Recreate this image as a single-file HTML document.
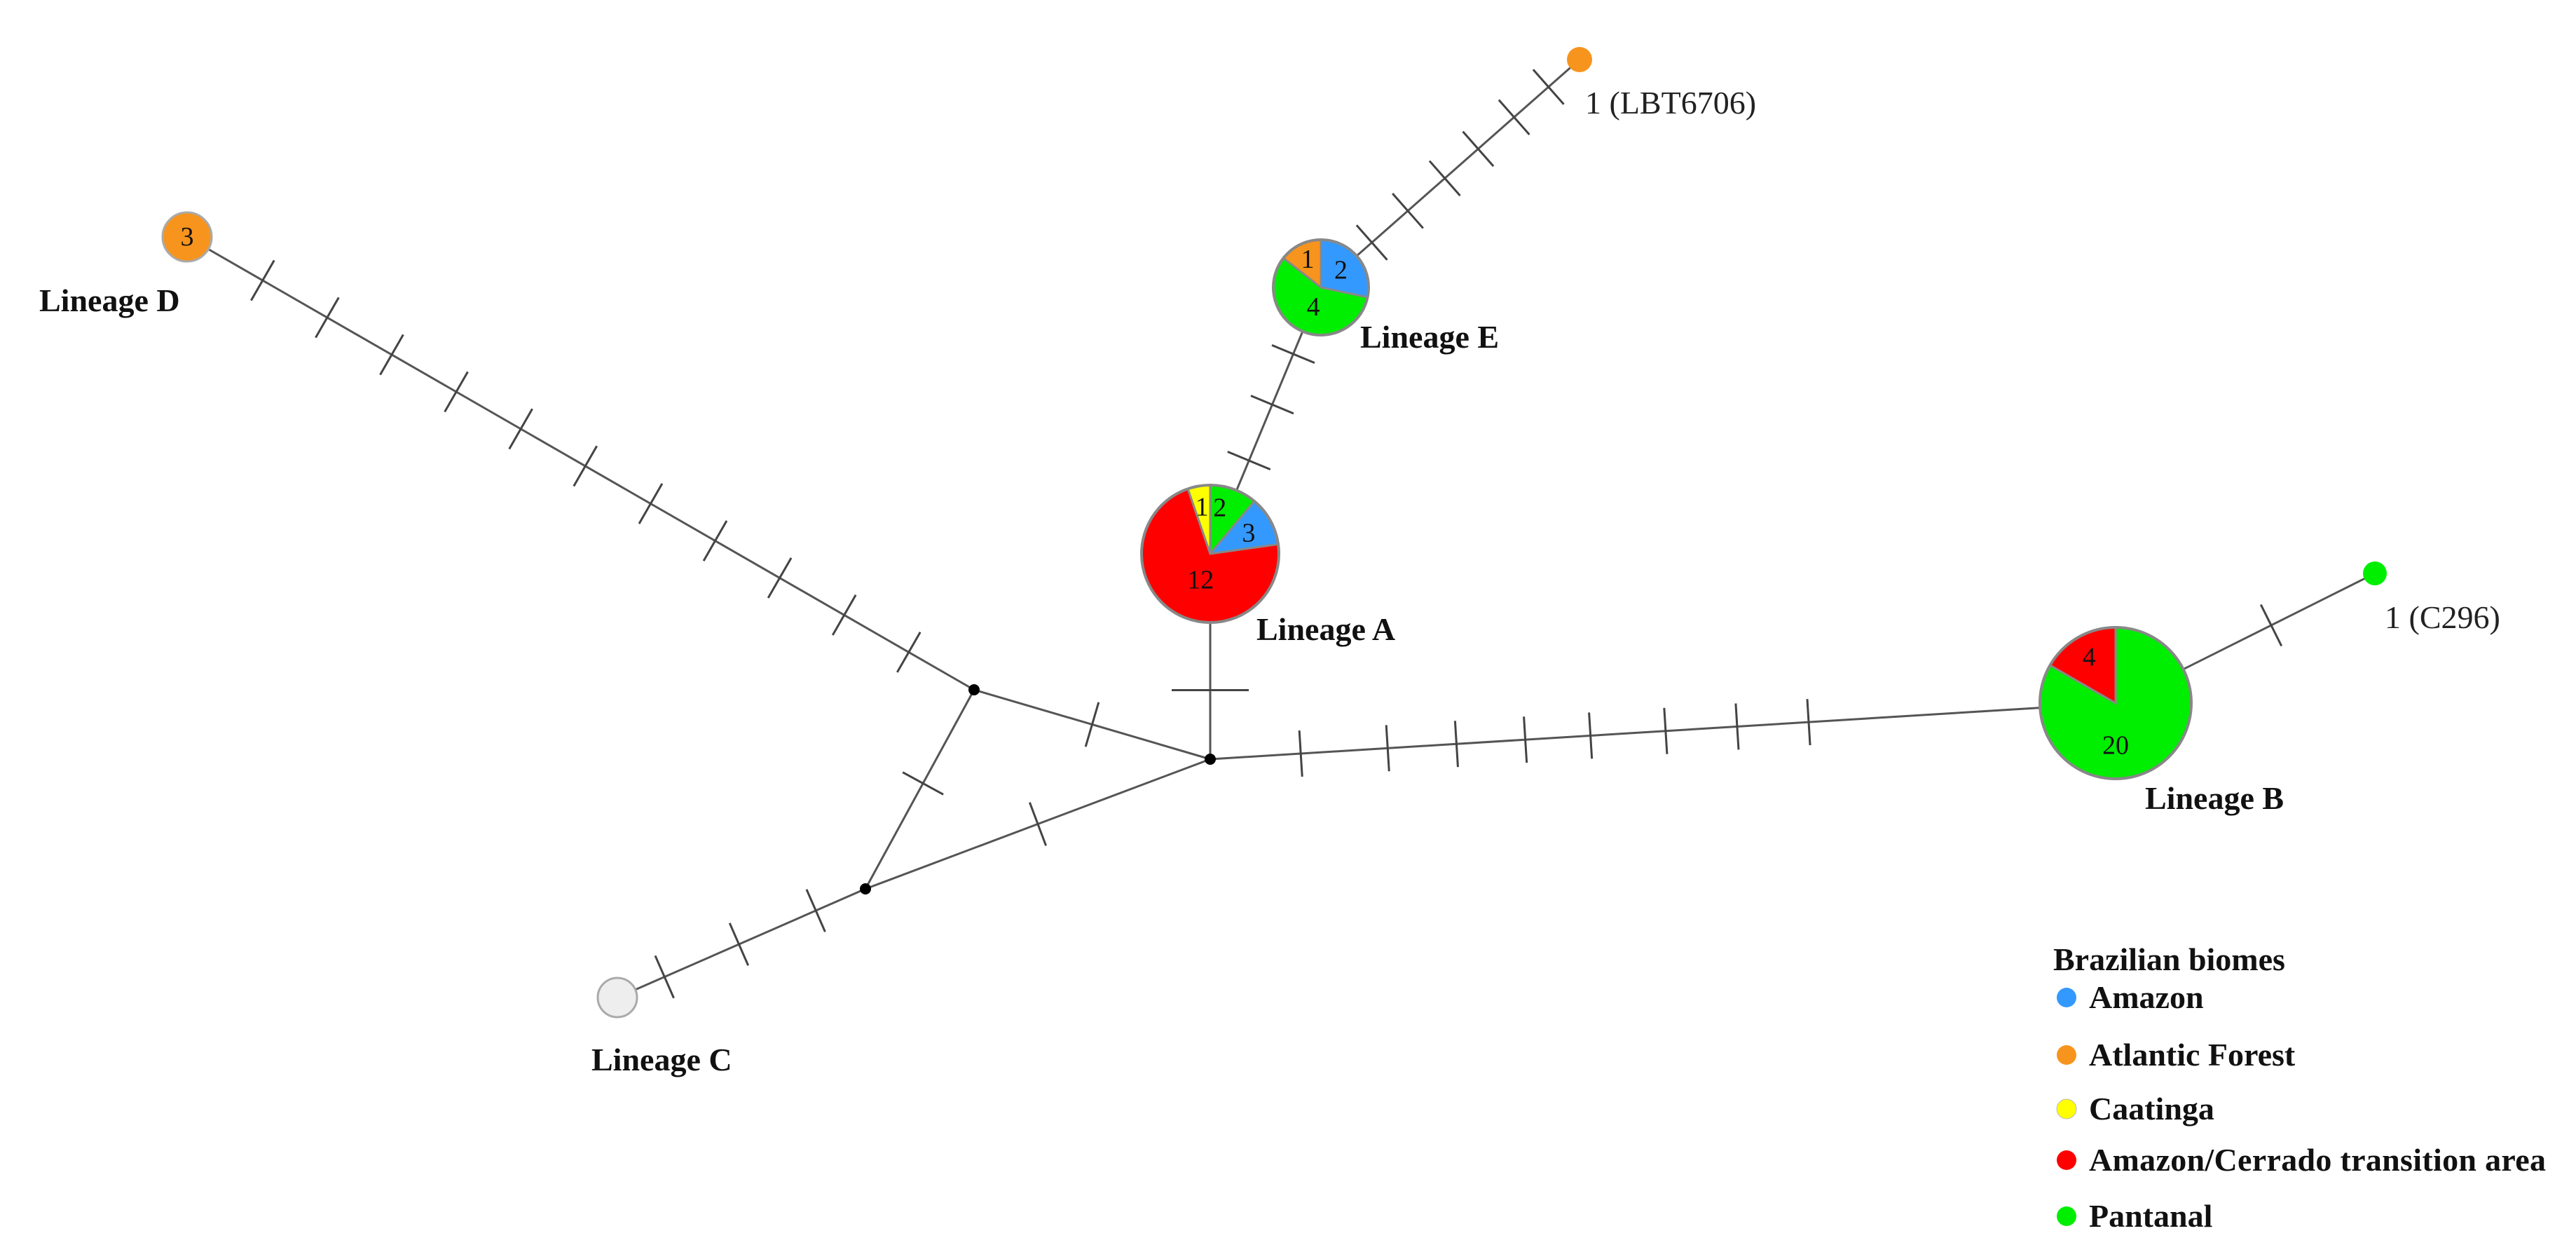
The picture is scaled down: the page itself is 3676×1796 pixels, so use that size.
<!DOCTYPE html>
<html><head><meta charset="utf-8"><style>
html,body{margin:0;padding:0;background:#fff;}
svg{display:block;}
text{font-family:"Liberation Serif",serif;}
.lab{font-weight:bold;font-size:46px;fill:#111;}
.num{font-size:38px;fill:#111;text-anchor:middle;}
.leg{font-weight:bold;font-size:46px;fill:#111;}
</style></head><body>
<svg id="s" width="3676" height="1796" viewBox="0 0 3676 1796" xmlns="http://www.w3.org/2000/svg">
<g id="edges" stroke="#555" stroke-width="3" fill="none"></g>
<g id="ticks" stroke="#444" stroke-width="3" fill="none"></g>
<g id="nodes"></g>
<g id="txt">
<text class="lab" x="56" y="444">Lineage D</text>
<text class="lab" x="1941" y="496">Lineage E</text>
<text class="lab" x="1793" y="913">Lineage A</text>
<text class="lab" x="3061" y="1154">Lineage B</text>
<text class="lab" x="844" y="1527">Lineage C</text>
<text x="2262" y="162" font-size="46" fill="#222">1 (LBT6706)</text>
<text x="3403" y="896" font-size="46" fill="#222">1 (C296)</text>
<text class="leg" x="2930" y="1384" font-size="54">Brazilian biomes</text>
<circle cx="2949" cy="1423" r="14" fill="#3399ff"/>
<circle cx="2949" cy="1505" r="14" fill="#f7941d"/>
<circle cx="2949" cy="1582" r="14" fill="#ffff00" stroke="#bbb" stroke-width="1"/>
<circle cx="2949" cy="1655" r="14" fill="#ff0000"/>
<circle cx="2949" cy="1735" r="14" fill="#00ee00"/>
<text class="leg" x="2981" y="1438">Amazon</text>
<text class="leg" x="2981" y="1520">Atlantic Forest</text>
<text class="leg" x="2981" y="1597">Caatinga</text>
<text class="leg" x="2981" y="1670" textLength="652">Amazon/Cerrado  transition area</text>
<text class="leg" x="2981" y="1750">Pantanal</text>
</g>
</svg>
<script>
var NS="http://www.w3.org/2000/svg";
function el(p,n,a){var e=document.createElementNS(NS,n);for(var k in a)e.setAttribute(k,a[k]);p.appendChild(e);return e;}
var E=document.getElementById("edges"),T=document.getElementById("ticks"),N=document.getElementById("nodes");
var P={D:[267,338],N1:[1390,984],N2:[1235,1268],H:[1727,1083],C:[881,1423],A:[1727,790],E:[1885,410],L:[2254,85],B:[3019,1003],C2:[3389,818]};
var edges=[["D","N1",[0.096,0.178,0.26,0.342,0.424,0.506,0.589,0.671,0.753,0.835,0.917],66],
["N1","H",[0.5],66],["N2","N1",[0.53],66],["N2","H",[0.5],66],["C","N2",[0.19,0.49,0.8],66],
["H","A",[0.336],110],["A","E",[0.35,0.56,0.75],66],["E","L",[0.197,0.336,0.479,0.608,0.747,0.88],66],
["H","B",[0.1,0.196,0.272,0.348,0.42,0.503,0.582,0.661],66],["B","C2",[0.6],66]];
edges.forEach(function(e){var a=P[e[0]],b=P[e[1]];
el(E,"line",{x1:a[0],y1:a[1],x2:b[0],y2:b[1]});
var dx=b[0]-a[0],dy=b[1]-a[1],L=Math.hypot(dx,dy),nx=-dy/L,ny=dx/L,h=e[3]/2;
e[2].forEach(function(f){var x=a[0]+dx*f,y=a[1]+dy*f;el(T,"line",{x1:x-nx*h,y1:y-ny*h,x2:x+nx*h,y2:y+ny*h});});});
function pie(c,r,sl,labs,fs){var cx=c[0],cy=c[1];
sl.forEach(function(s){var a0=(s[0]-90)*Math.PI/180,a1=(s[1]-90)*Math.PI/180;
var x0=cx+r*Math.cos(a0),y0=cy+r*Math.sin(a0),x1=cx+r*Math.cos(a1),y1=cy+r*Math.sin(a1);
var lg=(s[1]-s[0])>180?1:0;
el(N,"path",{d:"M"+cx+" "+cy+"L"+x0+" "+y0+"A"+r+" "+r+" 0 "+lg+" 1 "+x1+" "+y1+"Z",fill:s[2],stroke:"#888","stroke-width":3});});
el(N,"circle",{cx:cx,cy:cy,r:r,fill:"none",stroke:"#888","stroke-width":4});
labs.forEach(function(l){var t=el(N,"text",{x:cx+l[1]*r,y:cy+l[2]*r+fs*0.35,"class":"num","font-size":fs});t.textContent=l[0];});}
pie(P.A,98,[[0,40,"#00ee00"],[40,82,"#3399ff"],[82,341,"#ff0000"],[341,360,"#ffff00"]],[["1",-0.12,-0.7],["2",0.14,-0.69],["3",0.56,-0.32],["12",-0.14,0.36]],40);
pie(P.E,68,[[0,102,"#3399ff"],[102,308,"#00ee00"],[308,360,"#f7941d"]],[["1",-0.28,-0.6],["2",0.42,-0.37],["4",-0.16,0.4]],36);
pie(P.B,108,[[0,300,"#00ee00"],[300,360,"#ff0000"]],[["4",-0.35,-0.62],["20",0,0.55]],38);
el(N,"circle",{cx:267,cy:338,r:35,fill:"#f7941d",stroke:"#aaa","stroke-width":3});
var t=el(N,"text",{x:267,y:350,"class":"num","font-size":32});t.textContent="3";
el(N,"circle",{cx:881,cy:1423,r:28,fill:"#eeeeee",stroke:"#aaa","stroke-width":3});
el(N,"circle",{cx:2254,cy:85,r:18,fill:"#f7941d"});
el(N,"circle",{cx:3389,cy:818,r:17,fill:"#00ee00"});
["N1","N2","H"].forEach(function(k){el(N,"circle",{cx:P[k][0],cy:P[k][1],r:8,fill:"#000"});});
</script>
</body></html>
